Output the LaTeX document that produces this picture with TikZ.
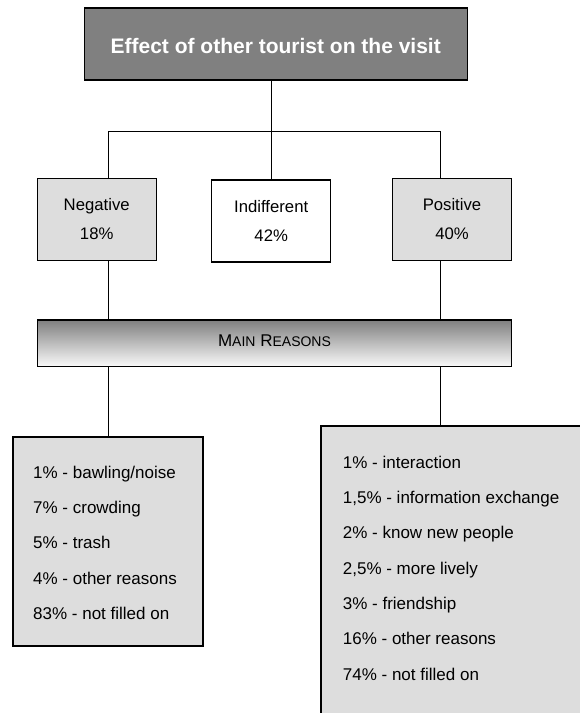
\documentclass[tikz,border=0pt]{standalone}
\usepackage{fontspec}
\setmainfont{Liberation Sans}
\definecolor{boxgray}{HTML}{DDDDDD}
\definecolor{titlegray}{HTML}{808080}
\begin{document}
\begin{tikzpicture}[x=1pt,y=-1pt,
  frame/.style={draw=black, line width=1.1pt, inner sep=0pt, outer sep=0pt},
  link/.style={draw=black, line width=0.9pt},
  catbox/.style={frame, fill=boxgray, minimum width=118.7pt, minimum height=81.7pt, align=center, font=\fontsize{16.7}{29.4}\selectfont},
  item/.style={anchor=base west, inner sep=0pt, font=\fontsize{17}{20}\selectfont}]
\clip (0,0) rectangle (580,713);
\fill[white] (0,0) rectangle (580,713);

\node[frame, fill=titlegray, minimum width=383pt, minimum height=72pt, text=white,
  font=\bfseries\fontsize{21}{25}\selectfont, text height=19.5pt, text depth=0pt] (title) at (275.7,44) {Effect of other tourist on the visit};

\node[catbox] (neg) at (96.7,219.2) {Negative\\18\%};
\node[catbox, fill=white, minimum width=119pt, minimum height=82pt] (ind) at (271.2,221) {Indifferent\\42\%};
\node[catbox] (pos) at (452,219.2) {Positive\\40\%};

\node[frame, top color=black!50, middle color=black!20, bottom color=black!2,
  minimum width=474.4pt, minimum height=46.7pt, text height=12.2pt, text depth=5.4pt,
  font=\fontsize{17}{20}\selectfont] (mr) at (274.5,343.3) {M{\fontsize{14}{16}\selectfont AIN} R{\fontsize{14}{16}\selectfont EASONS}};

\node[frame, fill=boxgray, minimum width=190pt, minimum height=209pt] (lbox) at (108,541.5) {};
\node[frame, fill=boxgray, minimum width=290pt, minimum height=310pt, anchor=north west] (rbox) at (321,426) {};

\coordinate (bl) at (108,131);
\coordinate (br) at (440,131);
\draw[link] (ind.north) -- (ind.north |- title.south);
\draw[link] (neg.north -| bl) -- (bl) -- (br) -- (pos.north -| br);
\draw[link] (neg.south -| bl) -- (mr.north -| bl);
\draw[link] (pos.south -| br) -- (mr.north -| br);
\draw[link] (mr.south -| bl) -- (lbox.north);
\draw[link] (mr.south -| br) -- (rbox.north -| br);

\node[item] (l1) at (33,478.7) {1\% - bawling/noise};
\node[item] (l2) at (33,513.8) {7\% - crowding};
\node[item] (l3) at (33,548.9) {5\% - trash};
\node[item] (l4) at (33,584.0) {4\% - other reasons};
\node[item] (l5) at (33,619.2) {83\% - not filled on};

\node[item] (r1) at (342.7,468.3) {1\% - interaction};
\node[item] (r2) at (342.7,503.6) {1,5\% - information exchange};
\node[item] (r3) at (342.7,538.9) {2\% - know new people};
\node[item] (r4) at (342.7,574.2) {2,5\% - more lively};
\node[item] (r5) at (342.7,609.5) {3\% - friendship};
\node[item] (r6) at (342.7,644.8) {16\% - other reasons};
\node[item] (r7) at (342.7,680.1) {74\% - not filled on};
\end{tikzpicture}
\end{document}
